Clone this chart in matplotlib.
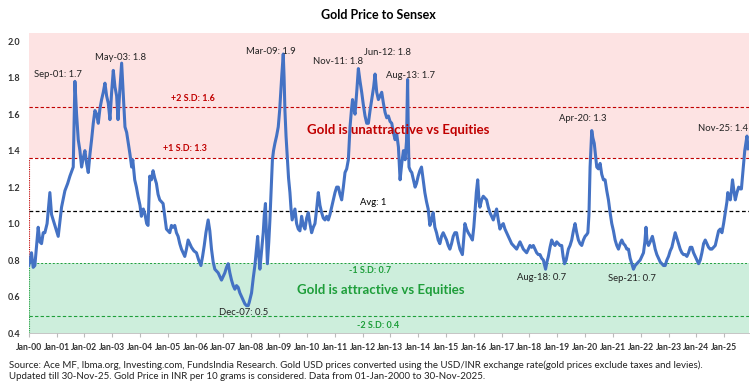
import matplotlib.pyplot as plt

plt.rcParams['font.family'] = ['Lato', 'DejaVu Sans']

# ratio gold price / sensex (decimal year, value)
years = [
    2000.00, 2000.05, 2000.10, 2000.16, 2000.22, 2000.34, 2000.40, 2000.46, 2000.52, 2000.58,
    2000.66, 2000.76, 2000.82, 2000.88, 2000.96, 2001.06, 2001.18, 2001.30, 2001.40, 2001.48,
    2001.60, 2001.66, 2001.72, 2001.78, 2001.84, 2001.90, 2001.96, 2002.02, 2002.08, 2002.14,
    2002.20, 2002.26, 2002.32, 2002.38, 2002.44, 2002.50, 2002.56, 2002.62, 2002.68, 2002.74,
    2002.80, 2002.86, 2002.92, 2002.98, 2003.04, 2003.10, 2003.16, 2003.21, 2003.27, 2003.34,
    2003.40, 2003.46, 2003.52, 2003.58, 2003.64, 2003.70, 2003.74, 2003.81, 2003.87, 2003.93,
    2004.00, 2004.05, 2004.12, 2004.18, 2004.24, 2004.29, 2004.35, 2004.41, 2004.47, 2004.53,
    2004.59, 2004.65, 2004.71, 2004.77, 2004.83, 2004.89, 2004.95, 2005.01, 2005.07, 2005.13,
    2005.19, 2005.25, 2005.31, 2005.37, 2005.43, 2005.49, 2005.55, 2005.61, 2005.67, 2005.73,
    2005.79, 2005.85, 2005.94, 2006.03, 2006.11, 2006.19, 2006.25, 2006.31, 2006.37, 2006.45,
    2006.51, 2006.57, 2006.63, 2006.69, 2006.75, 2006.81, 2006.87, 2006.93, 2006.99, 2007.05,
    2007.11, 2007.17, 2007.23, 2007.29, 2007.35, 2007.41, 2007.47, 2007.53, 2007.59, 2007.65,
    2007.71, 2007.77, 2007.83, 2007.89, 2007.93, 2008.01, 2008.07, 2008.13, 2008.18, 2008.23,
    2008.27, 2008.31, 2008.37, 2008.43, 2008.47, 2008.51, 2008.55, 2008.58, 2008.63, 2008.67,
    2008.72, 2008.76, 2008.80, 2008.85, 2008.91, 2008.97, 2009.02, 2009.06, 2009.10, 2009.15,
    2009.18, 2009.21, 2009.25, 2009.30, 2009.34, 2009.39, 2009.43, 2009.47, 2009.52, 2009.57,
    2009.63, 2009.69, 2009.75, 2009.81, 2009.87, 2009.93, 2009.99, 2010.05, 2010.11, 2010.17,
    2010.23, 2010.29, 2010.35, 2010.41, 2010.47, 2010.53, 2010.59, 2010.65, 2010.71, 2010.77,
    2010.83, 2010.89, 2010.95, 2011.01, 2011.07, 2011.13, 2011.19, 2011.25, 2011.31, 2011.37,
    2011.43, 2011.49, 2011.55, 2011.60, 2011.64, 2011.69, 2011.73, 2011.79, 2011.85, 2011.91,
    2011.97, 2012.03, 2012.09, 2012.15, 2012.21, 2012.27, 2012.33, 2012.40, 2012.45, 2012.51,
    2012.57, 2012.63, 2012.69, 2012.75, 2012.81, 2012.87, 2012.93, 2012.99, 2013.05, 2013.11,
    2013.17, 2013.23, 2013.29, 2013.35, 2013.41, 2013.47, 2013.53, 2013.58, 2013.62, 2013.65,
    2013.67, 2013.72, 2013.77, 2013.83, 2013.89, 2013.94, 2014.00, 2014.06, 2014.12, 2014.18,
    2014.24, 2014.30, 2014.36, 2014.42, 2014.48, 2014.54, 2014.60, 2014.66, 2014.72, 2014.78,
    2014.84, 2014.90, 2014.96, 2015.02, 2015.08, 2015.14, 2015.20, 2015.26, 2015.32, 2015.38,
    2015.44, 2015.50, 2015.59, 2015.64, 2015.68, 2015.74, 2015.80, 2015.88, 2015.95, 2016.00,
    2016.04, 2016.09, 2016.14, 2016.19, 2016.22, 2016.28, 2016.34, 2016.40, 2016.46, 2016.52,
    2016.58, 2016.64, 2016.70, 2016.76, 2016.82, 2016.88, 2016.94, 2017.00, 2017.06, 2017.12,
    2017.18, 2017.24, 2017.30, 2017.36, 2017.42, 2017.48, 2017.54, 2017.60, 2017.66, 2017.72,
    2017.78, 2017.84, 2017.90, 2017.96, 2018.02, 2018.08, 2018.14, 2018.20, 2018.26, 2018.32,
    2018.38, 2018.44, 2018.50, 2018.58, 2018.63, 2018.68, 2018.74, 2018.80, 2018.86, 2018.92,
    2018.98, 2019.04, 2019.10, 2019.16, 2019.21, 2019.26, 2019.32, 2019.40, 2019.46, 2019.52,
    2019.58, 2019.64, 2019.70, 2019.76, 2019.82, 2019.88, 2019.94, 2020.00, 2020.06, 2020.10,
    2020.14, 2020.18, 2020.24, 2020.28, 2020.33, 2020.38, 2020.42, 2020.48, 2020.54, 2020.60,
    2020.66, 2020.72, 2020.78, 2020.84, 2020.90, 2020.96, 2021.02, 2021.08, 2021.14, 2021.20,
    2021.26, 2021.32, 2021.38, 2021.44, 2021.50, 2021.56, 2021.62, 2021.68, 2021.74, 2021.80,
    2021.86, 2021.92, 2021.98, 2022.04, 2022.10, 2022.15, 2022.19, 2022.23, 2022.28, 2022.34,
    2022.42, 2022.48, 2022.52, 2022.58, 2022.64, 2022.70, 2022.76, 2022.82, 2022.88, 2022.94,
    2023.00, 2023.06, 2023.12, 2023.18, 2023.24, 2023.30, 2023.36, 2023.42, 2023.48, 2023.54,
    2023.60, 2023.66, 2023.72, 2023.78, 2023.84, 2023.90, 2023.96, 2024.02, 2024.08, 2024.14,
    2024.20, 2024.26, 2024.32, 2024.38, 2024.44, 2024.50, 2024.56, 2024.62, 2024.68, 2024.74,
    2024.80, 2024.86, 2024.92, 2024.98, 2025.04, 2025.10, 2025.13, 2025.18, 2025.22, 2025.26,
    2025.30, 2025.35, 2025.40, 2025.46, 2025.52, 2025.58, 2025.62, 2025.66, 2025.70, 2025.74,
    2025.78, 2025.82, 2025.86,
]
ratio = [
    0.77, 0.80, 0.84, 0.76, 0.77, 0.98, 0.90, 0.89, 0.95, 0.95,
    1.00, 1.17, 1.05, 1.02, 0.98, 0.93, 1.09, 1.18, 1.22, 1.26,
    1.31, 1.78, 1.60, 1.46, 1.40, 1.31, 1.36, 1.40, 1.33, 1.28,
    1.38, 1.46, 1.55, 1.62, 1.60, 1.55, 1.63, 1.68, 1.72, 1.77,
    1.70, 1.66, 1.57, 1.72, 1.84, 1.75, 1.70, 1.57, 1.72, 1.88,
    1.70, 1.53, 1.50, 1.44, 1.38, 1.31, 1.35, 1.24, 1.20, 1.15,
    1.10, 1.04, 1.08, 1.05, 1.00, 0.99, 1.26, 1.24, 1.29, 1.25,
    1.22, 1.16, 1.13, 1.12, 1.11, 1.04, 0.97, 0.96, 0.95, 0.99,
    0.98, 0.99, 0.95, 0.93, 0.89, 0.86, 0.84, 0.82, 0.86, 0.91,
    0.89, 0.87, 0.85, 0.84, 0.80, 0.77, 0.82, 0.88, 0.95, 1.02,
    0.96, 0.86, 0.79, 0.75, 0.74, 0.73, 0.71, 0.69, 0.71, 0.73,
    0.76, 0.78, 0.73, 0.69, 0.66, 0.64, 0.66, 0.65, 0.62, 0.60,
    0.58, 0.56, 0.55, 0.55, 0.57, 0.62, 0.70, 0.77, 0.85, 0.93,
    0.82, 0.75, 0.85, 0.95, 1.05, 1.11, 0.92, 0.78, 0.90, 1.02,
    1.20, 1.35, 1.40, 1.44, 1.48, 1.53, 1.62, 1.72, 1.82, 1.93,
    1.80, 1.62, 1.48, 1.35, 1.25, 1.17, 1.08, 1.02, 1.05, 1.08,
    1.00, 0.97, 0.96, 1.04, 0.99, 0.97, 1.03, 1.06, 1.00, 0.95,
    0.98, 1.00, 1.08, 1.17, 1.10, 1.06, 1.03, 1.02, 1.04, 1.02,
    1.05, 1.09, 1.13, 1.17, 1.20, 1.20, 1.16, 1.13, 1.20, 1.28,
    1.30, 1.35, 1.53, 1.62, 1.68, 1.63, 1.60, 1.72, 1.85, 1.78,
    1.72, 1.65, 1.59, 1.55, 1.55, 1.62, 1.68, 1.75, 1.82, 1.72,
    1.68, 1.70, 1.72, 1.66, 1.61, 1.58, 1.59, 1.56, 1.55, 1.50,
    1.46, 1.49, 1.42, 1.24, 1.33, 1.40, 1.35, 1.45, 1.79, 1.45,
    1.31, 1.29, 1.28, 1.24, 1.20, 1.22, 1.26, 1.29, 1.31, 1.24,
    1.17, 1.12, 1.08, 0.99, 1.02, 1.06, 0.98, 0.95, 0.91, 0.89,
    0.93, 0.95, 0.93, 0.91, 0.88, 0.86, 0.89, 0.93, 0.95, 0.95,
    0.90, 0.86, 0.83, 0.92, 1.00, 0.97, 0.95, 0.93, 0.91, 0.98,
    1.06, 1.17, 1.24, 1.12, 1.09, 1.13, 1.15, 1.14, 1.13, 1.09,
    1.06, 1.04, 1.02, 1.05, 1.08, 1.02, 0.97, 0.99, 1.00, 0.97,
    0.95, 0.93, 0.91, 0.89, 0.88, 0.87, 0.86, 0.88, 0.90, 0.88,
    0.86, 0.85, 0.84, 0.86, 0.88, 0.87, 0.88, 0.86, 0.84, 0.83,
    0.83, 0.81, 0.80, 0.75, 0.79, 0.82, 0.87, 0.91, 0.89, 0.88,
    0.90, 0.89, 0.88, 0.88, 0.82, 0.78, 0.80, 0.86, 0.88, 0.91,
    0.96, 1.00, 0.95, 0.91, 0.89, 0.88, 0.91, 0.93, 0.94, 0.95,
    1.05, 1.31, 1.51, 1.47, 1.44, 1.37, 1.31, 1.30, 1.33, 1.27,
    1.24, 1.24, 1.18, 1.13, 1.06, 1.00, 0.96, 0.91, 0.88, 0.86,
    0.89, 0.91, 0.89, 0.88, 0.86, 0.86, 0.81, 0.78, 0.75, 0.77,
    0.78, 0.79, 0.80, 0.82, 0.84, 0.90, 0.98, 0.90, 0.88, 0.90,
    0.93, 0.89, 0.86, 0.83, 0.81, 0.79, 0.78, 0.77, 0.77, 0.80,
    0.82, 0.85, 0.87, 0.91, 0.95, 0.92, 0.89, 0.86, 0.84, 0.83,
    0.83, 0.82, 0.84, 0.87, 0.87, 0.84, 0.82, 0.80, 0.78, 0.80,
    0.84, 0.89, 0.91, 0.89, 0.87, 0.86, 0.86, 0.87, 0.88, 0.92,
    0.96, 0.97, 0.95, 1.00, 1.06, 1.12, 1.17, 1.14, 1.13, 1.18,
    1.24, 1.18, 1.13, 1.17, 1.20, 1.19, 1.19, 1.26, 1.33, 1.40,
    1.44, 1.48, 1.41,
]

avg = 1.07
sd_plus1 = 1.357
sd_plus2 = 1.642
sd_minus1 = 0.785
sd_minus2 = 0.495

tick_years = list(range(2000, 2026))
tick_labels = [f'Jan-{y % 100:02d}' for y in tick_years]

# peak / trough call-outs: (text, x, y)
callouts = [
    ('Sep-01: 1.7', 2000.18, 1.819, 'left'),
    ('May-03: 1.8', 2003.31, 1.912, 'center'),
    ('Mar-09: 1.9', 2008.72, 1.945, 'center'),
    ('Nov-11: 1.8', 2011.13, 1.890, 'center'),
    ('Jun-12: 1.8', 2012.88, 1.940, 'center'),
    ('Aug-13: 1.7', 2013.71, 1.814, 'center'),
    ('Apr-20: 1.3', 2019.93, 1.578, 'center'),
    ('Nov-25: 1.4', 2024.96, 1.523, 'center'),
    ('Dec-07: 0.5', 2007.72, 0.510, 'center'),
    ('Aug-18: 0.7', 2018.42, 0.707, 'center'),
    ('Sep-21: 0.7', 2021.67, 0.700, 'center'),
]

red = '#C00000'
green = '#1E9E3A'
blue = '#4472C4'

fig = plt.figure(figsize=(7.56, 3.87), dpi=100)
ax = fig.add_axes([0.038, 0.1395, 0.953, 0.7752])

x0, x1 = 2000.0, 2025.9
y0, y1 = 0.4, 2.045
ax.set_xlim(x0, x1)
ax.set_ylim(y0, y1)

# zones
ax.axhspan(sd_plus1, y1, color='#FDE3E3', lw=0, zorder=0)
ax.axhspan(y0, sd_minus1, color='#CDEEDC', lw=0, zorder=0)
ax.plot([x0, x0], [sd_minus1, sd_plus1], color=red, ls=(0, (1, 1)), lw=0.8, zorder=1)
ax.plot([x0, x0], [y0, sd_minus1], color=green, ls=(0, (1, 1)), lw=0.8, zorder=1)

ax.axhline(sd_plus2, color=red, ls=(0, (3, 2)), lw=0.8, zorder=1)
ax.axhline(sd_plus1, color=red, ls=(0, (3, 2)), lw=0.8, zorder=1)
ax.axhline(avg, color='black', ls=(0, (3, 2)), lw=0.9, zorder=1)
ax.axhline(sd_minus1, color=green, ls=(0, (2, 2)), lw=0.7, zorder=1)
ax.axhline(sd_minus2, color=green, ls=(0, (3, 2)), lw=0.8, zorder=1)

ax.plot(years, ratio, color=blue, lw=2.2, zorder=3)

for txt, x, y, ha in callouts:
    ax.text(x, y, txt, fontsize=6.8, ha=ha, va='center', color='#222222', zorder=4)

ax.text(2005.92, 1.688, '+2 S.D: 1.6', fontsize=6.5, color=red, weight='bold', ha='center', va='center')
ax.text(2005.63, 1.414, '+1 S.D: 1.3', fontsize=6.5, color=red, weight='bold', ha='center', va='center')
ax.text(2012.37, 1.118, 'Avg: 1', fontsize=6.8, color='black', ha='center', va='center')
ax.text(2012.27, 0.745, '-1 S.D: 0.7', fontsize=6.5, color=green, weight='bold', ha='center', va='center')
ax.text(2012.55, 0.439, '-2 S.D: 0.4', fontsize=6.5, color=green, weight='bold', ha='center', va='center')
ax.text(2013.27, 1.512, 'Gold is unattractive vs Equities', fontsize=9.5, color=red,
        weight='bold', ha='center', va='center', zorder=4)
ax.text(2012.64, 0.636, 'Gold is attractive vs Equities', fontsize=9.5, color=green,
        weight='bold', ha='center', va='center', zorder=4)

ax.set_xticks(tick_years)
ax.set_xticklabels(tick_labels, fontsize=6.2, weight='bold', color='#333333')
ax.set_yticks([0.4, 0.6, 0.8, 1.0, 1.2, 1.4, 1.6, 1.8, 2.0])
ax.set_yticklabels([f'{v:.1f}' for v in [0.4, 0.6, 0.8, 1.0, 1.2, 1.4, 1.6, 1.8, 2.0]],
                   fontsize=6.5, weight='bold', color='#333333')
ax.tick_params(axis='y', length=0, pad=6)
ax.tick_params(axis='x', length=3, color='#BBBBBB', pad=4)
for s in ['top', 'right', 'left']:
    ax.spines[s].set_visible(False)
ax.spines['bottom'].set_color('#BBBBBB')
ax.spines['bottom'].set_linewidth(0.6)

fig.text(0.5, 0.961, 'Gold Price to Sensex', fontsize=9, weight='bold', ha='center', va='center')
fig.text(0.012, 0.057,
         'Source: Ace MF, Ibma.org, Investing.com, FundsIndia Research. Gold USD prices converted using '
         'the USD/INR exchange rate(gold prices exclude taxes and levies).',
         fontsize=7, ha='left', va='center', color='#222222')
fig.text(0.012, 0.026,
         'Updated till 30-Nov-25. Gold Price in INR per 10 grams is considered. '
         'Data from 01-Jan-2000 to 30-Nov-2025.',
         fontsize=7, ha='left', va='center', color='#222222')

fig.savefig('out.png', dpi=100)
